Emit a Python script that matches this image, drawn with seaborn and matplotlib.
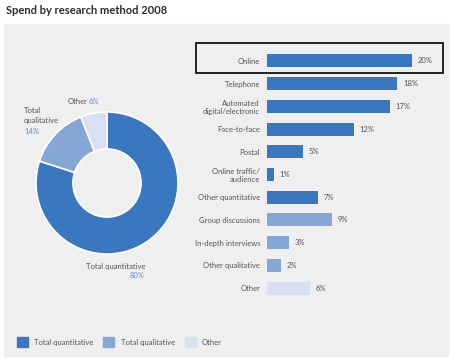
import matplotlib
matplotlib.use("Agg")
import matplotlib.pyplot as plt
import matplotlib.patches as patches
import numpy as np
import pandas as pd
import seaborn as sns

# data
methods = ['Online', 'Telephone', 'Automated\ndigital/electronic', 'Face-to-face',
           'Postal', 'Online traffic/\naudience', 'Other quantitative',
           'Group discussions', 'In-depth interviews', 'Other qualitative', 'Other']
shares = [20, 18, 17, 12, 5, 1, 7, 9, 3, 2, 6]
groups = ['Total quantitative'] * 7 + ['Total qualitative'] * 3 + ['Other']
group_order = ['Total quantitative', 'Total qualitative', 'Other']
group_colors = ['#3a77bf', '#86a6d7', '#d8e0f2']

df = pd.DataFrame({'method': methods, 'share': shares, 'group': groups})
totals = df.groupby('group')['share'].sum().reindex(group_order)

sns.set_theme(style='white')
plt.rcParams['font.family'] = ['Lato', 'DejaVu Sans']

W, H = 456, 361
fig = plt.figure(figsize=(W / 100, H / 100), dpi=100)
fig.patch.set_facecolor('white')


def fx(px):
    return px / W


def fy(py):
    return 1 - py / H


# grey panel
fig.patches.append(patches.Rectangle((fx(4), fy(356)), fx(444), 332 / H,
                                     transform=fig.transFigure, color='#efefef', zorder=-5))

fig.text(fx(6), fy(11), 'Spend by research method 2008', fontsize=8,
         color='#2b2b2b', fontweight='bold', va='center', ha='left')

label_col = '#555555'
pct_col = '#5b8fd0'

# donut
ax_pie = fig.add_axes([fx(36), fy(254), 142 / W, 142 / H])
ax_pie.pie(totals.values, colors=group_colors, startangle=90, counterclock=False,
           radius=1, wedgeprops=dict(width=0.52, edgecolor='white', linewidth=1.2))
ax_pie.set_xlim(-1, 1)
ax_pie.set_ylim(-1, 1)
ax_pie.axis('off')

fig.text(fx(145), fy(266), 'Total quantitative', fontsize=5.5, color=label_col,
         ha='right', va='center')
fig.text(fx(145), fy(276), '%d%%' % totals['Total quantitative'], fontsize=5.5,
         color=pct_col, ha='right', va='center')
fig.text(fx(24), fy(111), 'Total', fontsize=5.5, color=label_col, ha='left', va='center')
fig.text(fx(24), fy(121), 'qualitative', fontsize=5.5, color=label_col, ha='left', va='center')
fig.text(fx(24), fy(131), '%d%%' % totals['Total qualitative'], fontsize=5.5,
         color=pct_col, ha='left', va='center')
fig.text(fx(87), fy(102), 'Other', fontsize=5.5, color=label_col, ha='right', va='center')
fig.text(fx(89), fy(102), '%d%%' % totals['Other'], fontsize=5.5, color=pct_col,
         ha='left', va='center')

# bars
ax = fig.add_axes([fx(267), fy(299.5), 181 / W, 250 / H])
sns.barplot(data=df, x='share', y='method', hue='group', hue_order=group_order,
            palette=group_colors, saturation=1, dodge=False, width=0.57, orient='h',
            linewidth=0, legend=False, ax=ax)
ax.set_xlim(0, 25)
ax.set_ylim(len(methods) - 0.5, -0.5)
ax.patch.set_visible(False)
for s in ax.spines.values():
    s.set_visible(False)
ax.set_xticks([])
ax.set_xlabel('')
ax.set_ylabel('')
ax.tick_params(axis='y', length=0, pad=5, labelsize=5.5, labelcolor=label_col)
for lab in ax.get_yticklabels():
    lab.set_linespacing(1.25)
for cont in ax.containers:
    ax.bar_label(cont, fmt='%g%%', padding=4, fontsize=5.5, color=label_col)

# highlight box around Online row
fig.patches.append(patches.Rectangle((fx(196), fy(73)), fx(247), 30 / H,
                                     transform=fig.transFigure, fill=False,
                                     edgecolor='black', linewidth=1.2, zorder=5))

# legend
handles = [patches.Patch(color=c, label=g) for g, c in zip(group_order, group_colors)]
fig.legend(handles=handles, loc='center left', bbox_to_anchor=(fx(10), fy(342)),
           ncol=3, frameon=False, fontsize=5.5, handlelength=1.45, handleheight=1.45,
           handletextpad=0.8, columnspacing=1.3, labelcolor=label_col)

fig.savefig('out.png', dpi=100)
